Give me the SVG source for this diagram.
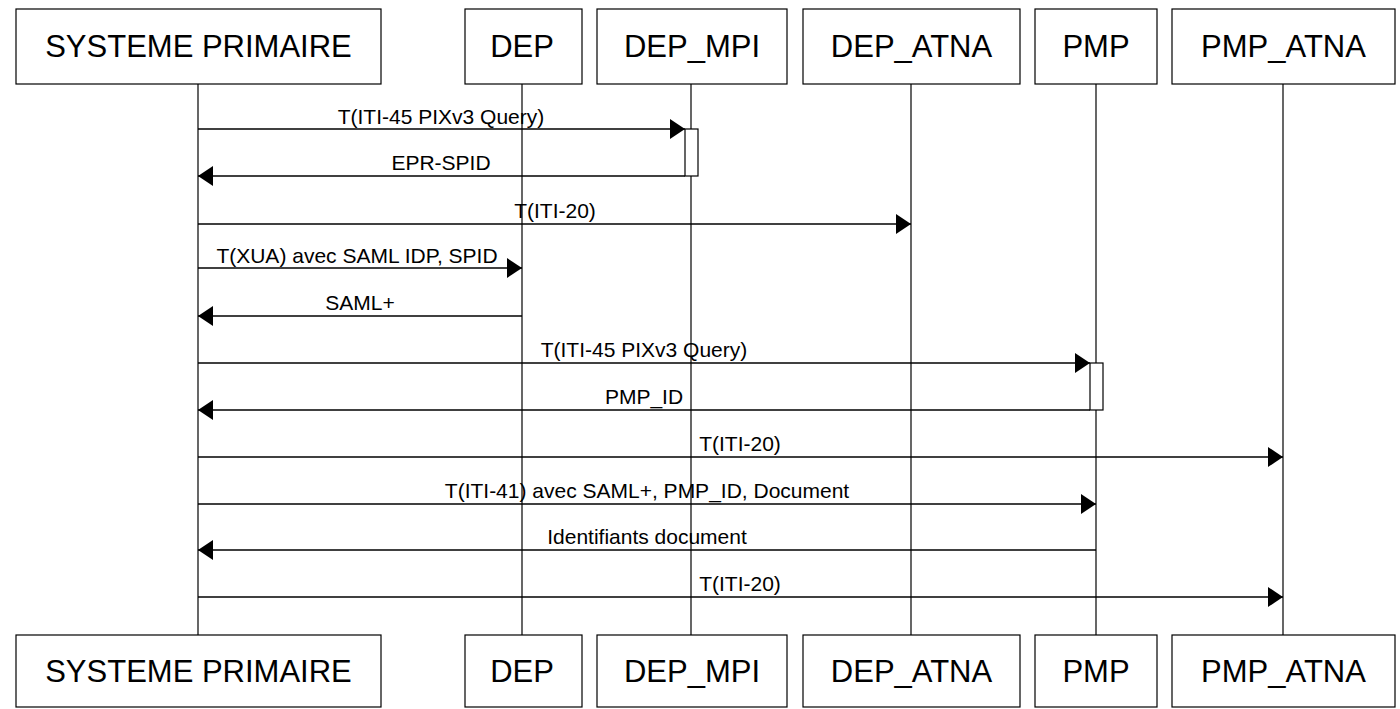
<svg xmlns="http://www.w3.org/2000/svg" width="1400" height="709" viewBox="0 0 1400 709">
<defs>
<style>
.box{fill:#fff;stroke:#000;stroke-width:1.2}
.hd{font-family:"Liberation Sans",Arial,sans-serif;font-size:31px;text-anchor:middle;fill:#000}
.life{stroke:#000;stroke-width:1.2;fill:none}
.msg{stroke:#000;stroke-width:1.5;fill:none}
.lbl{font-family:"Liberation Sans",Arial,sans-serif;font-size:21px;text-anchor:middle;fill:#000}
.act{fill:#fff;stroke:#000;stroke-width:1.2}
</style>
<marker id="ah" markerWidth="16" markerHeight="20" refX="15" refY="10" orient="auto" markerUnits="userSpaceOnUse">
<path d="M0,0 L15,10 L0,20 Z" fill="#000"/>
</marker>
</defs>
<rect width="1400" height="709" fill="#fff"/>
<g id="lifelines">
<line class="life" x1="198" y1="84" x2="198" y2="635"/>
<line class="life" x1="522" y1="84" x2="522" y2="635"/>
<line class="life" x1="691" y1="84" x2="691" y2="635"/>
<line class="life" x1="911" y1="84" x2="911" y2="635"/>
<line class="life" x1="1096" y1="84" x2="1096" y2="635"/>
<line class="life" x1="1283" y1="84" x2="1283" y2="635"/>
</g>
<g id="activations">
<rect class="act" x="685" y="129" width="13" height="47"/>
<rect class="act" x="1090" y="363" width="13" height="47"/>
</g>
<g id="node-sp">
<rect class="box" x="16" y="9" width="365" height="75"/>
<text class="hd" x="198.5" y="57">SYSTEME PRIMAIRE</text>
<rect class="box" x="16" y="635" width="365" height="72"/>
<text class="hd" x="198.5" y="682">SYSTEME PRIMAIRE</text>
</g>
<g id="node-dep">
<rect class="box" x="465" y="9" width="117" height="75"/>
<text class="hd" x="522" y="57">DEP</text>
<rect class="box" x="465" y="635" width="117" height="72"/>
<text class="hd" x="522" y="682">DEP</text>
</g>
<g id="node-dep-mpi">
<rect class="box" x="597" y="9" width="190" height="75"/>
<text class="hd" x="692" y="57">DEP_MPI</text>
<rect class="box" x="597" y="635" width="190" height="72"/>
<text class="hd" x="692" y="682">DEP_MPI</text>
</g>
<g id="node-dep-atna">
<rect class="box" x="803" y="9" width="217" height="75"/>
<text class="hd" x="911.5" y="57">DEP_ATNA</text>
<rect class="box" x="803" y="635" width="217" height="72"/>
<text class="hd" x="911.5" y="682">DEP_ATNA</text>
</g>
<g id="node-pmp">
<rect class="box" x="1035" y="9" width="122" height="75"/>
<text class="hd" x="1096" y="57">PMP</text>
<rect class="box" x="1035" y="635" width="122" height="72"/>
<text class="hd" x="1096" y="682">PMP</text>
</g>
<g id="node-pmp-atna">
<rect class="box" x="1172" y="9" width="223" height="75"/>
<text class="hd" x="1283.5" y="57">PMP_ATNA</text>
<rect class="box" x="1172" y="635" width="223" height="72"/>
<text class="hd" x="1283.5" y="682">PMP_ATNA</text>
</g>
<g id="connectors">
<line class="msg" x1="198" y1="129" x2="685" y2="129" marker-end="url(#ah)"/>
<text class="lbl" x="441" y="124">T(ITI-45 PIXv3 Query)</text>
<line class="msg" x1="685" y1="176" x2="198" y2="176" marker-end="url(#ah)"/>
<text class="lbl" x="441" y="170">EPR-SPID</text>
<line class="msg" x1="198" y1="224" x2="911" y2="224" marker-end="url(#ah)"/>
<text class="lbl" x="555" y="218">T(ITI-20)</text>
<line class="msg" x1="198" y1="268" x2="522" y2="268" marker-end="url(#ah)"/>
<text class="lbl" x="357" y="263">T(XUA) avec SAML IDP, SPID</text>
<line class="msg" x1="522" y1="316" x2="198" y2="316" marker-end="url(#ah)"/>
<text class="lbl" x="360" y="310">SAML+</text>
<line class="msg" x1="198" y1="363" x2="1090" y2="363" marker-end="url(#ah)"/>
<text class="lbl" x="644" y="357">T(ITI-45 PIXv3 Query)</text>
<line class="msg" x1="1090" y1="410" x2="198" y2="410" marker-end="url(#ah)"/>
<text class="lbl" x="644" y="404">PMP_ID</text>
<line class="msg" x1="198" y1="457" x2="1283" y2="457" marker-end="url(#ah)"/>
<text class="lbl" x="740" y="451">T(ITI-20)</text>
<line class="msg" x1="198" y1="504" x2="1096" y2="504" marker-end="url(#ah)"/>
<text class="lbl" x="647" y="498">T(ITI-41) avec SAML+, PMP_ID, Document</text>
<line class="msg" x1="1096" y1="550" x2="198" y2="550" marker-end="url(#ah)"/>
<text class="lbl" x="647" y="544">Identifiants document</text>
<line class="msg" x1="198" y1="597" x2="1283" y2="597" marker-end="url(#ah)"/>
<text class="lbl" x="740" y="591">T(ITI-20)</text>
</g>
</svg>
